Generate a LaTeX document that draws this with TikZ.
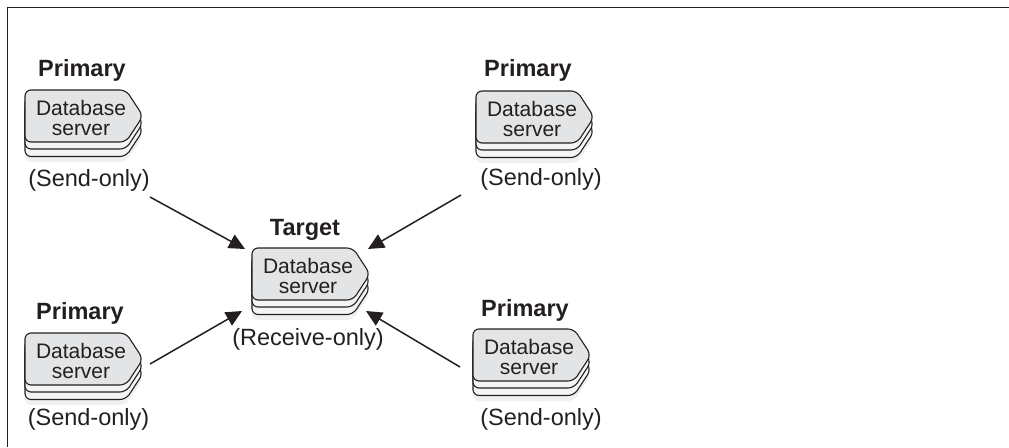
\documentclass[tikz,border=0pt]{standalone}
\usepackage{fontspec}
\setmainfont{Liberation Sans}
\usetikzlibrary{arrows.meta,calc}

\definecolor{bodygray}{HTML}{E3E4E5}
\definecolor{layergray}{HTML}{F3F4F4}
\definecolor{shadowgray}{HTML}{F0F0F0}
\definecolor{linegray}{HTML}{231F20}

% one plate of the stack, #2 is the top left corner
\newcommand{\dbplate}[2][]{
  \draw[#1,rounded corners=6pt] (#2) -- ++(101,0) -- ++(17,26) -- ++(-17,26) -- ++(-101,0) -- cycle;
}

\tikzset{
  plate/.style={draw=linegray,line width=1.1pt,fill=layergray},
  topplate/.style={plate,fill=bodygray},
  shadowplate/.style={draw=none,fill=shadowgray},
  server/.style={align=center,inner sep=0pt,font=\fontsize{21}{20}\selectfont,text=linegray},
  role/.style={anchor=base,inner sep=0pt,font=\fontsize{23.5}{26}\selectfont\bfseries,text=linegray},
  mode/.style={anchor=base,inner sep=0pt,font=\fontsize{23.5}{26}\selectfont,text=linegray},
  link/.style={draw=linegray,line width=1.5pt,-{Triangle[length=16pt,width=15pt]}}
}

\begin{document}
\begin{tikzpicture}[x=1pt,y=-1pt]
  \useasboundingbox (0,0) rectangle (1009,447);

  % frame is open at the right and at the bottom
  \draw[linegray,line width=1.5pt] (7.5,447) -- (7.5,7.5) -- (1009,7.5);

  \foreach \name/\x/\y in {p1/25/90,p2/476/91,t/252/248,p3/25/333,p4/473/329}
  {
    \coordinate (\name c) at (\x,\y);
    \dbplate[shadowplate]{$(\name c)+(0,20)$}
    \dbplate[plate]{$(\name c)+(0,14.5)$}
    \dbplate[plate]{$(\name c)+(0,7)$}
    \dbplate[topplate]{\name c}
    \node[server] (\name) at ($(\name c)+(56,28)$) {Database\\server};
  }

  \node[role] (p1r) at (82,76)   {Primary};
  \node[role] (p2r) at (528,76)  {Primary};
  \node[role] (tr)  at (305,235) {Target};
  \node[role] (p3r) at (80,319)  {Primary};
  \node[role] (p4r) at (525,316) {Primary};

  \node[mode] (p1m) at (89,186)  {(Send-only)};
  \node[mode] (p2m) at (541,185) {(Send-only)};
  \node[mode] (tm)  at (308,345.5) {(Receive-only)};
  \node[mode] (p3m) at (88.5,425.5)  {(Send-only)};
  \node[mode] (p4m) at (541,425.5) {(Send-only)};

  \coordinate (a1) at (150,197);
  \coordinate (b1) at (245,249);
  \coordinate (a2) at (461,195);
  \coordinate (b2) at (368,249);
  \coordinate (a3) at (150,364);
  \coordinate (b3) at (242,311);
  \coordinate (a4) at (460,367);
  \coordinate (b4) at (366,311);

  \foreach \from/\to in {a1/b1,a2/b2,a3/b3,a4/b4}
    \draw[link] (\from) -- (\to);
\end{tikzpicture}
\end{document}
